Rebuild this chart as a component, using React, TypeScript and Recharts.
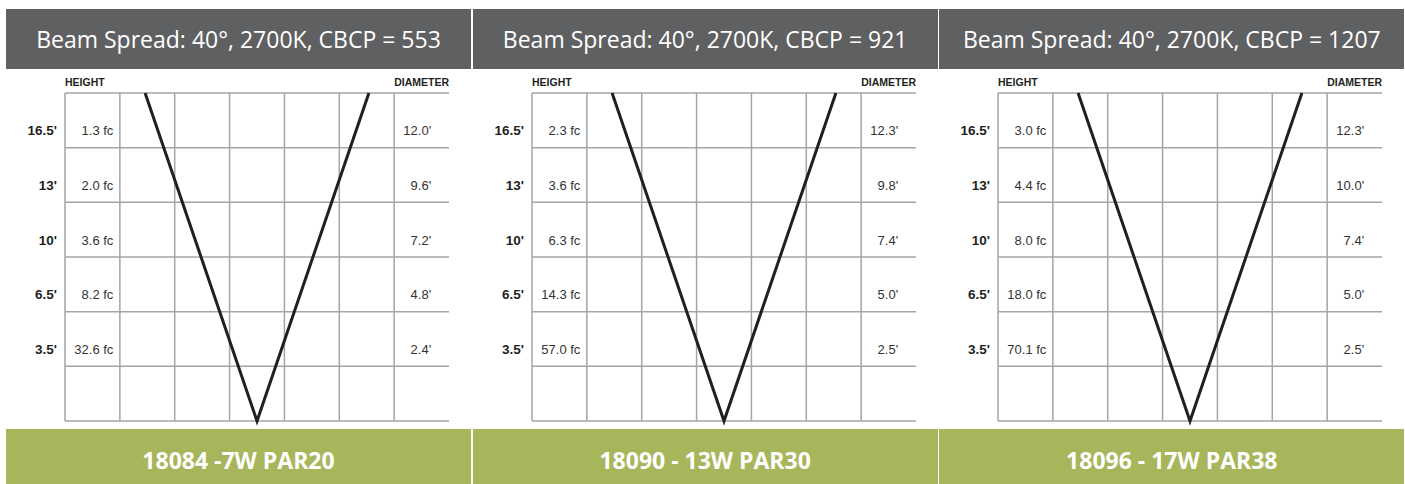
import React from "react";
import { ComposedChart, Line, Scatter, XAxis, YAxis, ReferenceLine } from "recharts";

const fixtures = ["18084 -7W PAR20", "18090 - 13W PAR30", "18096 - 17W PAR38"];
const beamSpread = 40;
const colorTemp = "2700K";
const cbcp = [553, 921, 1207];
const heights = ["16.5'", "13'", "10'", "6.5'", "3.5'"];
const footcandles = [
  [1.3, 2.0, 3.6, 8.2, 32.6],
  [2.3, 3.6, 6.3, 14.3, 57.0],
  [3.0, 4.4, 8.0, 18.0, 70.1],
];
const diameters = [
  [12.0, 9.6, 7.2, 4.8, 2.4],
  [12.3, 9.8, 7.4, 5.0, 2.5],
  [12.3, 10.0, 7.4, 5.0, 2.5],
];
// grid is 7 columns x 6 rows; the cone drawn in the same units
const rowTicks = [0, 1, 2, 3, 4, 5, 6];
const colTicks = [0, 1, 2, 3, 4, 5, 6];
const beamX = [1.46, 3.5, 5.54];
const beamY = [6, 0, 6];

const PANEL_W = 465;
const PANEL_STEP = 466.67;
const GRID_COLOR = "#a3a5a8";
const INK = "#231f20";

const textShape = (anchor: "start" | "end", dx: number, dy: number, size: number, weight: number, color: string) =>
  (props: any) => (
    <text
      x={props.cx + dx}
      y={props.cy + dy}
      textAnchor={anchor}
      fontFamily="'Liberation Sans', Arial, sans-serif"
      fontSize={size}
      fontWeight={weight}
      fill={color}
    >
      {props.payload.label}
    </text>
  );

function Panel({ idx }: { idx: number }) {
  const beam = beamX.map((x, i) => ({ x, y: beamY[i] }));
  const heightPts = heights.map((h, i) => ({ x: 0, y: 5.5 - i, label: h }));
  const fcPts = footcandles[idx].map((v, i) => ({ x: 1, y: 5.5 - i, label: `${v.toFixed(1)} fc` }));
  const diaPts = diameters[idx].map((v, i) => ({ x: 6, y: 5.5 - i, label: `${v.toFixed(1)}'` }));

  return (
    <div style={{ position: "absolute", left: 6 + idx * PANEL_STEP, top: 0, width: PANEL_W, height: 484 }}>
      <div
        style={{
          position: "absolute",
          top: 9,
          left: 0,
          width: PANEL_W,
          height: 60,
          background: "#5f6062",
          color: "#fff",
          fontFamily: "'Open Sans', sans-serif",
          fontSize: 23,
          display: "flex",
          alignItems: "center",
          justifyContent: "center",
        }}
      >
        Beam Spread: {beamSpread}°, {colorTemp}, CBCP = {cbcp[idx]}
      </div>
      <div style={{ position: "absolute", top: 69, left: 0 }}>
        <ComposedChart width={PANEL_W} height={360} margin={{ top: 24, right: 22, bottom: 8, left: 59 }}>
          <XAxis type="number" dataKey="x" domain={[0, 7]} ticks={colTicks} height={0} hide />
          <YAxis type="number" dataKey="y" domain={[0, 6]} ticks={rowTicks} width={0} hide />
          {rowTicks.map((r) => (
            <ReferenceLine key={`r${r}`} y={r} stroke={GRID_COLOR} strokeWidth={1.5} />
          ))}
          {colTicks.map((c) => (
            <ReferenceLine key={`c${c}`} x={c} stroke={GRID_COLOR} strokeWidth={1.5} />
          ))}
          <Line data={beam} dataKey="y" type="linear" stroke={INK} strokeWidth={3} dot={false}
            strokeLinejoin="miter" isAnimationActive={false} />
          <Scatter data={[{ x: 0, y: 6, label: "HEIGHT" }]} isAnimationActive={false}
            shape={textShape("start", 0, -7, 10.5, 700, INK)} />
          <Scatter data={[{ x: 7, y: 6, label: "DIAMETER" }]} isAnimationActive={false}
            shape={textShape("end", 0, -7, 10.5, 700, INK)} />
          <Scatter data={heightPts} isAnimationActive={false}
            shape={textShape("end", -8, 15, 13.5, 700, INK)} />
          <Scatter data={fcPts} isAnimationActive={false}
            shape={textShape("end", -6.5, 15, 13, 400, "#333")} />
          <Scatter data={diaPts} isAnimationActive={false}
            shape={textShape("end", 37, 15, 13, 400, "#333")} />
        </ComposedChart>
      </div>
      <div
        style={{
          position: "absolute",
          top: 429.3,
          left: 0,
          width: PANEL_W,
          height: 54.7,
          background: "#a8b65b",
          color: "#fff",
          fontFamily: "'Open Sans', sans-serif",
          fontWeight: 700,
          fontSize: 23,
          display: "flex",
          alignItems: "center",
          justifyContent: "center",
          paddingTop: 6,
          boxSizing: "border-box",
        }}
      >
        {fixtures[idx]}
      </div>
    </div>
  );
}

export default function App() {
  return (
    <div style={{ position: "fixed", left: 0, top: 0, width: 1405, height: 484, background: "#fff" }}>
      {fixtures.map((_, i) => (
        <Panel key={i} idx={i} />
      ))}
    </div>
  );
}
